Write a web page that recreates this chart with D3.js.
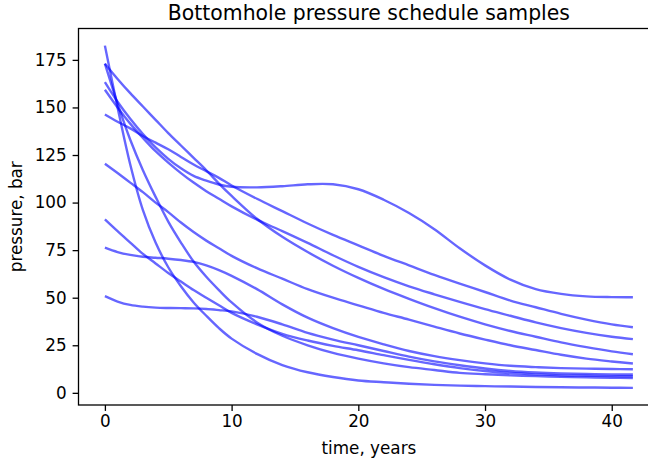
<!DOCTYPE html>
<html><head><meta charset="utf-8">
<script src="https://cdn.jsdelivr.net/npm/d3@7"></script>
<style>body{margin:0;background:#fff}svg{display:block}text{font-family:"DejaVu Sans",sans-serif;fill:#000}</style>
</head><body><svg id="c" width="648" height="463"></svg>
<script>
const title = "Bottomhole pressure schedule samples";
const xLabel = "time, years";
const yLabel = "pressure, bar";
const xTicks = [0, 10, 20, 30, 40];
const yTicks = [0, 25, 50, 75, 100, 125, 150, 175];
const time = [0,1,2,3,4,5,6,7,8,9,10,12,14,16,18,20,22,24,26,28,30,32,34,36,38,40,41.67];
const s1 = [182.5,150,120,96,79,66,56,47.5,40.5,34,28.5,20.5,14.6,10.8,8.3,6.5,5.6,4.8,4.2,3.8,3.5,3.3,3.1,2.9,2.8,2.7,2.6];
const s2 = [173,152,133,117,103,90,79,69,61,54,47.5,37,30,25,21,18,15.5,13.5,12,10.5,9.8,9.2,8.8,8.4,8.1,7.9,7.8];
const s3 = [163.3,153,144,136,129,123,118,114,111.5,109.5,108.3,108,108.6,109.6,109.6,107,101.5,94.5,86,76,67,59.5,54.5,52,50.7,50.3,50.2];
const s4 = [159.3,150,141.5,134,127,121,115.5,110.5,106,102,98,91,85,78.8,72.3,66.2,60.8,56,51.8,47.8,44,40.5,37,34,31.5,29.5,28.2];
const s5 = [146.3,142.5,139,135,131.5,128,124,120,116.5,113,109,102,95.5,89,83,77.5,72,67,62,57.4,53,48.5,45,41.5,38.5,36,34.5];
const s6 = [173,165,157.5,150.5,143.5,136.5,130,123.5,117,110,103.5,91.5,82,74,66.8,60.4,54.6,49.4,44.5,40,36,32.5,29.5,26.5,24,21.8,20.3];
const s7 = [120.4,115.5,110.5,105.5,100,95,89.5,84.5,80,76,72,65.5,60,54.5,50,46,42,38.5,34.8,31.2,28,25,22.5,20,18,16.5,15.4];
const s8 = [91.2,85,79,73,68,63,58.5,54,50,46,42,36,31,27.5,24.7,22.4,19.8,17.3,15,13,11.5,10.4,9.7,9.2,9,8.8,8.7];
const s9 = [76.3,74,72.5,71.5,71,70.5,69.8,68.8,67,64.5,61.5,54.5,46.5,39.5,34,29.4,25.5,22,19.3,17.2,15.5,14.2,13.5,13,12.7,12.5,12.4];
const s10 = [50.8,48,46.2,45.3,44.8,44.6,44.5,44.4,44.1,43.5,42.8,40,36,31.5,28,25,22,19,16.5,14.5,12.8,11.5,10.7,10.2,9.9,9.7,9.6];
const series = [s1,s2,s3,s4,s5,s6,s7,s8,s9,s10];

const svg = d3.select("#c");
const L = 78.5, R = 659.3, T = 28.5, B = 405;
const tMax = d3.max(time);
const allV = series.flat();
const vMin = d3.min(allV), vMax = d3.max(allV);
const xm = tMax * 0.05, ym = (vMax - vMin) * 0.05;
const x = d3.scaleLinear().domain([-xm, tMax + xm]).range([L, R]);
const y = d3.scaleLinear().domain([vMin - ym, vMax + ym]).range([B, T]);

svg.append("defs").append("clipPath").attr("id","clip")
  .append("rect").attr("x",L).attr("y",T).attr("width",R-L).attr("height",B-T);

const line = d3.line().x((d,i)=>x(time[i])).y(d=>y(d)).curve(d3.curveCatmullRom.alpha(0.5));
svg.append("g").attr("clip-path","url(#clip)").selectAll("path").data(series).join("path")
  .attr("d", line).attr("fill","none").attr("stroke","rgba(0,0,255,0.6)")
  .attr("stroke-width",2.4).attr("stroke-linejoin","round");

const xa = svg.append("g").attr("transform",`translate(0,${B})`)
  .call(d3.axisBottom(x).tickValues(xTicks).tickFormat(d3.format("d")).tickSize(5.9).tickPadding(4.5));
const ya = svg.append("g").attr("transform",`translate(${L},0)`)
  .call(d3.axisLeft(y).tickValues(yTicks).tickFormat(d3.format("d")).tickSize(5.9).tickPadding(5.9));
[xa, ya].forEach(g => {
  g.select(".domain").remove();
  g.selectAll("line").attr("stroke","#000").attr("stroke-width",1.3);
  g.selectAll("text").style("font-family","DejaVu Sans").style("font-size","16.8px").attr("fill","#000");
});
svg.append("rect").attr("x",L).attr("y",T).attr("width",R-L).attr("height",B-T)
  .attr("fill","none").attr("stroke","#000").attr("stroke-width",1.3);

svg.append("text").attr("x",(L+R)/2).attr("y",20).attr("text-anchor","middle")
  .style("font-size","20.4px").text(title);
svg.append("text").attr("x",(L+R)/2).attr("y",454).attr("text-anchor","middle")
  .style("font-size","16.8px").text(xLabel);
svg.append("text").attr("transform",`translate(22,${(T+B)/2}) rotate(-90)`).attr("text-anchor","middle")
  .style("font-size","16.8px").text(yLabel);
</script></body></html>
